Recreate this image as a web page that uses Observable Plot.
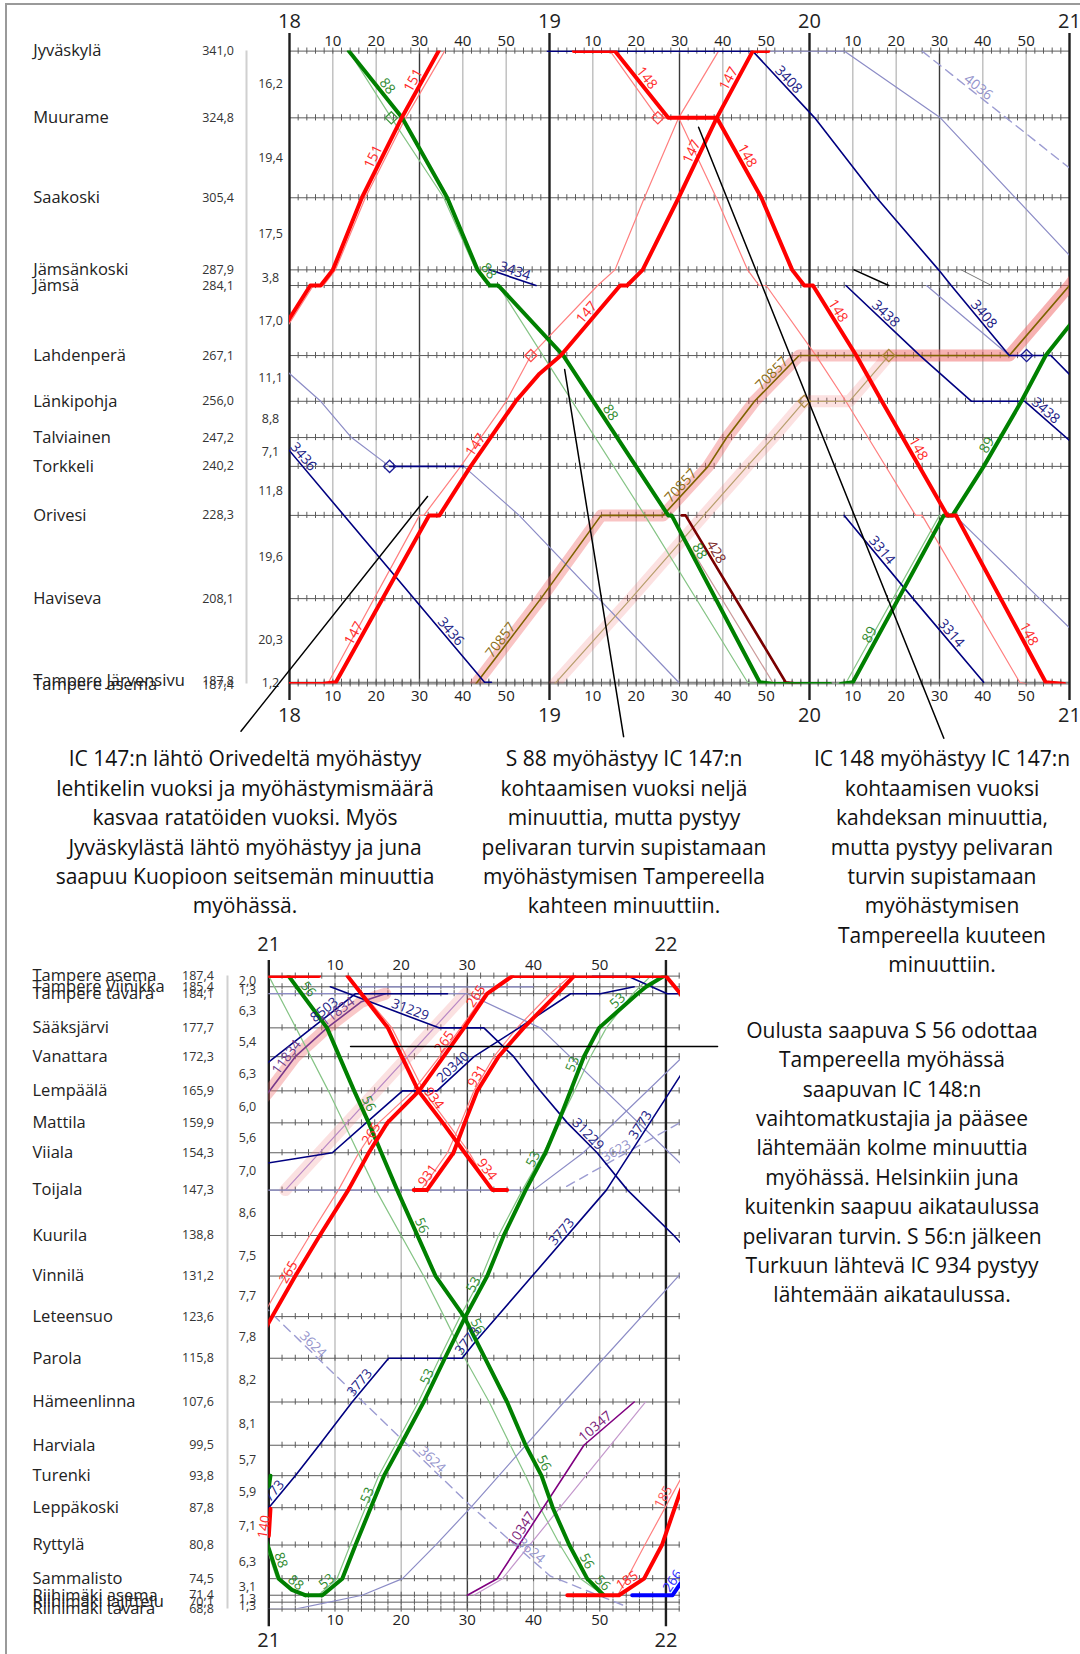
<!DOCTYPE html>
<html><head><meta charset="utf-8">
<script src="https://cdn.jsdelivr.net/npm/d3@7"></script>
<script src="https://cdn.jsdelivr.net/npm/@observablehq/plot@0.6"></script>
<style>
body{margin:0;background:#fff;font-family:"Open Sans",sans-serif;}
#page{position:relative;width:1080px;height:1654px;overflow:hidden;background:#fff;}
#frame{position:absolute;left:5px;top:3px;width:1200px;height:1800px;border-left:2px solid #9a9a9a;border-top:2px solid #9a9a9a;}
.chart{position:absolute;left:0;}
.note{position:absolute;font-size:21px;line-height:29.4px;text-align:center;color:#111;white-space:nowrap;transform:translateX(-50%);}
</style></head>
<body><div id="page"><div id="frame"></div><div id="top" class="chart" style="top:0"></div><div id="bot" class="chart" style="top:930px"></div></div>
<script>
// ---------------- DATA ----------------
const topStations = ["Jyväskylä","Muurame","Saakoski","Jämsänkoski","Jämsä","Lahdenperä","Länkipohja","Talviainen","Torkkeli","Orivesi","Haviseva","Tampere Järvensivu","Tampere asema"];
const topKm = [341.0,324.8,305.4,287.9,284.1,267.1,256.0,247.2,240.2,228.3,208.1,187.8,187.4];
const topSegments = ["16,2","19,4","17,5","3,8","17,0","11,1","8,8","7,1","11,8","19,6","20,3","1,2"];

const botStations = ["Tampere asema","Tampere Viinikka","Tampere tavara","Sääksjärvi","Vanattara","Lempäälä","Mattila","Viiala","Toijala","Kuurila","Vinnilä","Leteensuo","Parola","Hämeenlinna","Harviala","Turenki","Leppäkoski","Ryttylä","Sammalisto","Riihimäki asema","Riihimäki lajittelu","Riihimäki tavara"];
const botKm = [187.4,185.4,184.1,177.7,172.3,165.9,159.9,154.3,147.3,138.8,131.2,123.6,115.8,107.6,99.5,93.8,87.8,80.8,74.5,71.4,70.1,68.8];
const botSegments = ["2,0","1,3","6,3","5,4","6,3","6,0","5,6","7,0","8,6","7,5","7,7","7,8","8,2","8,1","5,7","5,9","7,1","6,3","3,1","1,3","1,3"];

// train paths: [time, station name or km]
const topTrains = [
 {id:"151p",kind:"redThin",pts:[["17:58",271.7],["18:05.5","Jämsä"],["18:07.8","Jämsä"],["18:10.6","Jämsänkoski"],["18:17.5","Saakoski"],["18:26.8","Muurame"],["18:35.8","Jyväskylä"]]},
 {id:"88p",kind:"greenThin",pts:[["18:13.7","Jyväskylä"],["18:23.5","Muurame"],["18:35.6","Saakoski"],["18:43","Jämsänkoski"],["18:45.8","Jämsä"],["18:48.2","Jämsä"],["18:58.5","Lahdenperä"],["19:22","Orivesi"],["19:45.7","Tampere Järvensivu"],["19:47.5","Tampere asema"]]},
 {id:"147p",kind:"redThin",pts:[["18:07.6","Tampere asema"],["18:09","Tampere Järvensivu"],["18:30","Orivesi"],["18:31","Orivesi"],["18:39.5","Torkkeli"],["18:50","Länkipohja"],["18:55.7","Lahdenperä"],["19:11.1","Jämsä"],["19:15.1","Jämsänkoski"],["19:21.9","Saakoski"],["19:29.8","Muurame"],["19:39","Jyväskylä"]]},
 {id:"148p",kind:"redThin",pts:[["19:14","Jyväskylä"],["19:25","Muurame"],["19:29.8","Muurame"],["19:38.5","Saakoski"],["19:45.7","Jämsänkoski"],["19:48.4","Jämsä"],["19:50","Jämsä"],["20:01.5","Lahdenperä"],["20:08.4","Länkipohja"],["20:24.5","Orivesi"],["20:26","Orivesi"],["20:48.5","Tampere Järvensivu"],["20:50","Tampere asema"]]},
 {id:"428p",kind:"maroonLight",pts:[["19:28","Orivesi"],["19:51.5","Tampere Järvensivu"],["19:53","Tampere asema"]]},
 {id:"89p",kind:"greenThin",pts:[["20:05.5","Tampere asema"],["20:08.5","Tampere Järvensivu"],["20:30","Orivesi"]]},
 {id:"3436p",kind:"navyLight",pts:[["17:58",264.6],["18:07.2","Länkipohja"],["18:14.3","Talviainen"],["18:23.1","Torkkeli"]]},
 {id:"3436q",kind:"navyLight",pts:[["18:40.2","Torkkeli"],["18:53","Orivesi"],["19:29.8","Tampere Järvensivu"]]},
 {id:"3436w",kind:"navy",pts:[["18:23.1","Torkkeli"],["18:40.2","Torkkeli"]]},
 {id:"l1",kind:"navyLight",pts:[["19:50.5","Jyväskylä"],["20:08","Jyväskylä"],["20:30.2","Muurame"],["21:00",291.4],["21:03",288]]},
 {id:"4036",kind:"navyDash",pts:[["20:26","Jyväskylä"],["21:00",312.6],["21:03",310.4]]},
 {id:"l2",kind:"navyLight",pts:[["20:27","Jämsä"],["20:46.1","Lahdenperä"],["20:50","Lahdenperä"]]},
 {id:"l3",kind:"navyLight",pts:[["20:33.5","Orivesi"],["21:00",201],["21:03",198]]},
 {id:"g1",kind:"grey",pts:[["20:35","Jämsänkoski"],["20:42","Jämsä"]]},
 {id:"b1",kind:"black",pts:[["20:10.3","Jämsänkoski"],["20:18.3","Jämsä"]]},
 {id:"70857p",kind:"oliveLight",pts:[["19:01.2","Tampere asema"],["19:18.8","Haviseva"],["19:35.6","Orivesi"],["19:45.6","Torkkeli"],["19:51.6","Talviainen"],["19:58.8","Länkipohja"],["20:09.2","Länkipohja"],["20:18.3","Lahdenperä"],["20:46.1","Lahdenperä"],["21:00","Jämsä"],["21:02",287]]},
 {id:"70857",kind:"olive",pts:[["18:43","Tampere asema"],["18:58","Haviseva"],["19:11.9","Orivesi"],["19:26.2","Orivesi"],["19:36.6","Torkkeli"],["19:40.9","Talviainen"],["19:47.3","Länkipohja"],["19:57.6","Lahdenperä"],["20:46.1","Lahdenperä"],["21:00","Jämsä"],["21:02",287]]},
 {id:"3434",kind:"navy",pts:[["18:46.2","Jämsänkoski"],["18:56.9","Jämsä"]]},
 {id:"3436",kind:"navy",pts:[["17:58",246.5],["18:45","Tampere Järvensivu"],["18:46.6","Tampere Järvensivu"]]},
 {id:"3408",kind:"navy",pts:[["18:59.5","Jyväskylä"],["19:46.9","Jyväskylä"],["20:01.2","Muurame"],["20:15.5","Saakoski"],["20:29.8","Jämsänkoski"],["20:32.7","Jämsä"],["20:46.1","Lahdenperä"],["20:55.7","Lahdenperä"],["21:00",262.5],["21:02",260]]},
 {id:"3438",kind:"navy",pts:[["20:08.4","Jämsä"],["20:25.5","Lahdenperä"],["20:37.4","Länkipohja"],["20:49.7","Länkipohja"],["21:00",246.5],["21:02",244.5]]},
 {id:"3314",kind:"navy",pts:[["20:08","Orivesi"],["20:23.9","Haviseva"],["20:40.2","Tampere Järvensivu"]]},
 {id:"428",kind:"maroon",pts:[["19:30.5","Orivesi"],["19:31.4","Orivesi"],["19:54.5","Tampere Järvensivu"],["19:57.6","Tampere asema"]]},
 {id:"88",kind:"greenThick",pts:[["18:13.7","Jyväskylä"],["18:26","Muurame"],["18:36.4","Saakoski"],["18:43.4","Jämsänkoski"],["18:46.2","Jämsä"],["18:48.2","Jämsä"],["19:03.2","Lahdenperä"],["19:27.4","Orivesi"],["19:28.2","Orivesi"],["19:48.5","Tampere Järvensivu"],["19:51.7","Tampere asema"],["20:04.8","Tampere asema"]]},
 {id:"89",kind:"greenThick",pts:[["20:07.2","Tampere asema"],["20:10","Tampere Järvensivu"],["20:31","Orivesi"],["20:33","Orivesi"],["20:40.2","Torkkeli"],["20:48.9","Länkipohja"],["20:54.5","Lahdenperä"],["21:00",274.4],["21:02",277]]},
 {id:"151",kind:"redThick",pts:[["17:58",272.8],["18:04.8","Jämsä"],["18:07.2","Jämsä"],["18:10","Jämsänkoski"],["18:16.7","Saakoski"],["18:25.9","Muurame"],["18:34.4","Jyväskylä"]]},
 {id:"147",kind:"redThick",pts:[["17:58","Tampere asema"],["18:07.6","Tampere asema"],["18:10.7","Tampere Järvensivu"],["18:32.2","Orivesi"],["18:34.6","Orivesi"],["18:41.8","Torkkeli"],["18:52.2","Länkipohja"],["18:57.7",262.7],["19:02.6","Lahdenperä"],["19:16.3","Jämsä"],["19:17.9","Jämsä"],["19:21.5","Jämsänkoski"],["19:29.8","Saakoski"],["19:38.6","Muurame"],["19:46.9","Jyväskylä"],["19:50.5","Jyväskylä"]]},
 {id:"148",kind:"redThick",pts:[["19:05.6","Jyväskylä"],["19:15.1","Jyväskylä"],["19:27.4","Muurame"],["19:38.6","Muurame"],["19:48.9","Saakoski"],["19:56","Jämsänkoski"],["19:58.8","Jämsä"],["20:00.8","Jämsä"],["20:10.8","Lahdenperä"],["20:16.7","Länkipohja"],["20:31.8","Orivesi"],["20:33.8","Orivesi"],["20:54.5","Tampere Järvensivu"],["20:58.8","Tampere asema"]]}
];
const topDiamonds = [["greenThin","18:23.5","Muurame"],["redThin","19:25","Muurame"],["redThin","18:55.7","Lahdenperä"],["navy","18:23.1","Torkkeli"],["oliveLight","19:58.8","Länkipohja"],["oliveLight","20:18.3","Lahdenperä"],["navy","20:50.1","Lahdenperä"]];
const topLabels = [["88","18:21.1"],["151","18:30.2"],["151","18:21"],["88","18:44.5"],["3434","18:51.5"],["148","19:21"],["147","19:43"],["147","19:34.5"],["148","19:44"],["147","19:10"],["3408","19:54"],["4036","20:38"],["3438","20:16.5"],["3408","20:39"],["148","20:05"],["3436","18:02"],["147","18:44.5"],["147","18:16.5"],["3436","18:36"],["70857","18:50"],["88","19:12.5"],["70857","19:52.5"],["70857","19:31.5"],["88","19:33"],["428","19:37"],["89","20:42.5"],["3438","20:53.5"],["3314","20:15.5"],["3314","20:31.5"],["148","20:23.5"],["148","20:49"],["89","20:15.5"]];
const topAnnoLines = [
 [["17:48.8",175.9],["18:31.85",232.9]],
 [["19:17.1",174.6],["19:03.5",263.7]],
 [["20:31",174.2],["19:34.4",322.5]]
];

const botTrains = [
 {id:"934p",kind:"redThin",pts:[["21:12","Tampere asema"],["21:18.6","Sääksjärvi"],["21:23.4","Lempäälä"],["21:27","Mattila"],["21:30.3","Viiala"],["21:33.5","Toijala"]]},
 {id:"931p",kind:"redThin",pts:[["21:23","Toijala"],["21:27","Viiala"],["21:29","Mattila"],["21:31","Lempäälä"],["21:34","Vanattara"],["21:37.5","Sääksjärvi"],["21:42.5","Tampere tavara"],["21:45.5","Tampere asema"]]},
 {id:"265p",kind:"redThin",pts:[["20:59","Leteensuo"],["21:02.5","Vinnilä"],["21:06.2","Kuurila"],["21:10.5","Toijala"],["21:13.6","Viiala"],["21:16.6","Mattila"],["21:21.8","Lempäälä"],["21:25.8","Vanattara"],["21:29","Sääksjärvi"],["21:32.7","Tampere tavara"],["21:36.4","Tampere asema"]]},
 {id:"56p",kind:"greenThin",pts:[["21:00","Tampere asema"],["21:04.1","Sääksjärvi"],["21:09","Lempäälä"],["21:16.2","Toijala"],["21:23.4","Vinnilä"],["21:26.5","Leteensuo"],["21:29.6","Parola"],["21:33.3","Hämeenlinna"],["21:36.5","Harviala"],["21:38.8","Turenki"],["21:41","Leppäkoski"],["21:44","Ryttylä"],["21:47.1","Sammalisto"],["21:50.6","Riihimäki asema"]]},
 {id:"53p",kind:"greenThin",pts:[["21:05","Riihimäki asema"],["21:07.5","Riihimäki asema"],["21:10.3","Sammalisto"],["21:12.3","Ryttylä"],["21:14.6","Leppäkoski"],["21:16.6","Turenki"],["21:19.1","Harviala"],["21:22.6","Hämeenlinna"],["21:25.8","Parola"],["21:28.9","Leteensuo"],["21:32.2","Vinnilä"],["21:34.7","Kuurila"],["21:38.3","Toijala"],["21:41.5","Viiala"],["21:43.8","Mattila"],["21:46.2","Lempäälä"],["21:48.6","Vanattara"],["21:51","Sääksjärvi"],["21:55","Tampere tavara"],["21:57.7","Tampere asema"]]},
 {id:"88p",kind:"greenThin",pts:[["20:59.5",81],["21:01.2","Sammalisto"],["21:04.8","Riihimäki asema"]]},
 {id:"185p",kind:"redThin",pts:[["21:52.7","Riihimäki asema"],["21:54.1","Sammalisto"],["21:56.8","Ryttylä"],["22:02.2",93.1],["22:04",97]]},
 {id:"10347p",kind:"purpleLight",pts:[["21:31","Riihimäki asema"],["21:35.3","Sammalisto"],["21:56.9","Hämeenlinna"]]},
 {id:"11834p",kind:"purpleHaloLight",pts:[["21:02.5","Toijala"],["21:29.7","Tampere tavara"]]},
 {id:"11834",kind:"purpleHalo",pts:[["20:58.5",163.5],["21:00.3",166.2],["21:04","Vanattara"],["21:08.8","Sääksjärvi"],["21:14",182.6],["21:17.6","Tampere tavara"]]},
 {id:"L1",kind:"navyLight",pts:[["20:58","Tampere tavara"],["21:30","Tampere tavara"],["21:41","Sääksjärvi"],["22:02.2",152.3],["22:04",150.5]]},
 {id:"L2",kind:"navyLight",pts:[["21:13","Tampere Viinikka"],["21:40","Tampere Viinikka"]]},
 {id:"L3",kind:"navyLight",pts:[["20:58","Riihimäki tavara"],["21:04","Riihimäki tavara"],["21:14.1","Riihimäki asema"],["21:20.2","Sammalisto"],["21:25.2","Ryttylä"],["21:30.5","Leppäkoski"],["21:44.6","Hämeenlinna"],["22:02.2",131.6],["22:04",134]]},
 {id:"L4",kind:"navyLight",pts:[["20:58","Toijala"],["21:40","Toijala"],["21:47.5","Viiala"],["22:02.2",171.9],["22:04",174]]},
 {id:"3624",kind:"navyDash",pts:[["20:59",125.9],["21:30.2",88.5],["21:42.5",75],["21:54.2",69.2]]},
 {id:"L5",kind:"navyDash",pts:[["21:45",148],["22:02.2",160],["22:04",161.5]]},
 {id:"8503",kind:"navy",pts:[["20:59",170.4],["21:00.3",171.6],["21:13.1","Tampere tavara"],["21:27","Tampere tavara"]]},
 {id:"31229",kind:"navy",pts:[["21:09.3","Tampere Viinikka"],["21:25.7","Sääksjärvi"],["21:32.5","Sääksjärvi"],["21:37","Vanattara"],["21:41","Lempäälä"],["21:45.1","Mattila"],["21:49.6","Viiala"],["21:54.2","Toijala"],["22:01.2","Kuurila"],["22:04",135]]},
 {id:"20340",kind:"navy",pts:[["20:58",152],["21:09.6","Viiala"],["21:14.7","Mattila"],["21:20.2","Lempäälä"],["21:25.4","Lempäälä"],["21:31","Vanattara"],["21:37.8","Sääksjärvi"],["21:45.6","Tampere tavara"],["21:50.1","Tampere tavara"],["21:55.2","Tampere Viinikka"]]},
 {id:"n5",kind:"navy",pts:[["21:48.9","Tampere asema"],["21:54.2","Tampere asema"],["22:00.2","Tampere tavara"],["22:04","Tampere tavara"]]},
 {id:"3773",kind:"navy",pts:[["20:59",89.5],["21:00","Leppäkoski"],["21:04","Turenki"],["21:07.6","Harviala"],["21:12.6","Hämeenlinna"],["21:18.1","Parola"],["21:29.2","Parola"],["21:31.2",118.9],["21:39.8","Vinnilä"],["21:51","Toijala"],["22:02.2",168.8],["22:04",171]]},
 {id:"10347",kind:"purple",pts:[["21:30","Riihimäki asema"],["21:34.5","Sammalisto"],["21:47.6","Harviala"],["21:55.2","Hämeenlinna"]]},
 {id:"56",kind:"greenThick",pts:[["21:03","Tampere asema"],["21:08.8","Sääksjärvi"],["21:12.9","Lempäälä"],["21:15.1","Mattila"],["21:17","Viiala"],["21:19.4","Toijala"],["21:25.2","Vinnilä"],["21:29.5","Leteensuo"],["21:36","Hämeenlinna"],["21:38.8","Harviala"],["21:41.2","Turenki"],["21:42.9","Leppäkoski"],["21:45.4","Ryttylä"],["21:48.1","Sammalisto"],["21:50.6","Riihimäki asema"]]},
 {id:"88",kind:"greenThick",pts:[["20:59.5",82],["21:00.3",79],["21:01.5","Sammalisto"],["21:03.5",72.4],["21:05.5","Riihimäki asema"]]},
 {id:"53",kind:"greenThick",pts:[["21:05.5","Riihimäki asema"],["21:08.1","Riihimäki asema"],["21:11.1","Sammalisto"],["21:13.1","Ryttylä"],["21:15.4","Leppäkoski"],["21:17.4","Turenki"],["21:19.9","Harviala"],["21:23.4","Hämeenlinna"],["21:26.6","Parola"],["21:29.7","Leteensuo"],["21:33","Vinnilä"],["21:35.5","Kuurila"],["21:38.8","Toijala"],["21:41.8","Viiala"],["21:43.7","Mattila"],["21:45.6","Lempäälä"],["21:47.6","Vanattara"],["21:49.9","Sääksjärvi"],["21:55.7","Tampere tavara"],["21:57","Tampere Viinikka"],["21:59.7","Tampere asema"]]},
 {id:"g0",kind:"greenThick",pts:[["21:00",91.6],["21:00.25",93.8]]},
 {id:"148",kind:"redThick",pts:[["20:58","Tampere asema"],["21:07.6","Tampere asema"]]},
 {id:"934",kind:"redThick",pts:[["21:11.9","Tampere asema"],["21:18","Sääksjärvi"],["21:20.1","Vanattara"],["21:22.6","Lempäälä"],["21:26.3","Mattila"],["21:29.6","Viiala"],["21:33.8","Toijala"],["21:36","Toijala"]]},
 {id:"931",kind:"redThick",pts:[["21:21.9","Toijala"],["21:23.9","Toijala"],["21:27.9","Viiala"],["21:29.6","Mattila"],["21:31.5","Lempäälä"],["21:34.7","Vanattara"],["21:38.5","Sääksjärvi"],["21:43.6","Tampere tavara"],["21:46.1","Tampere asema"]]},
 {id:"265",kind:"redThick",pts:[["20:59",120.3],["21:00.5","Leteensuo"],["21:04","Vinnilä"],["21:07.7","Kuurila"],["21:12","Toijala"],["21:15.1","Viiala"],["21:17.9","Mattila"],["21:22.7","Lempäälä"],["21:26.4","Vanattara"],["21:29.5","Sääksjärvi"],["21:33","Tampere tavara"],["21:36.8","Tampere asema"]]},
 {id:"r9",kind:"redThick",pts:[["21:36.8","Tampere asema"],["22:00","Tampere asema"],["22:02.2","Tampere tavara"],["22:05","Sääksjärvi"]]},
 {id:"185",kind:"redThick",pts:[["21:45.1","Riihimäki asema"],["21:52.9","Riihimäki asema"],["21:56.7","Sammalisto"],["21:59.4","Ryttylä"],["22:02.2",90.9],["22:03.5",95]]},
 {id:"140",kind:"redThick",pts:[["21:00",82.5],["21:00.25",87.6]]},
 {id:"266",kind:"blueThick",pts:[["21:54.9","Riihimäki asema"],["22:01","Riihimäki asema"],["22:02.2",73.6],["22:04",76.5]]}
];
const botDiamonds = [];
const botLabels = [["56","21:05"],["8503","21:09"],["11834","21:03.5"],["11834","21:11"],["31229","21:21"],["56","21:14"],["265","21:16.5"],["265","21:27.5"],["20340","21:28.5"],["934","21:24"],["931","21:25"],["934","21:32"],["931","21:32.5"],["265","21:32.3"],["56","21:22"],["53","21:32"],["53","21:41"],["53","21:47"],["53","21:53.5"],["31229","21:47.5"],["3773","21:57"],["3773","21:45"],["265","21:04"],["3624","21:06"],["3773","21:14.5"],["53","21:25"],["3773","21:30.8"],["56","21:30.5"],["53","21:16"],["3624","21:24"],["10347","21:50"],["10347","21:39"],["3624","21:39"],["56","21:40.5"],["56","21:47"],["56","21:49.6"],["185","21:54.8"],["185p","22:00.5","185"],["88","21:00.7"],["88","21:03.3"],["53","21:09.5"],["3773","21:01.2"],["L5","21:53","3623"],["266","22:02","266"]];
const botExtraLabels = [{t:"20:59.3",km:84.2,rot:-80,txt:"140",kind:"redThick"}];
const botAnnoLines = [[["21:12.35",174.2],["22:07.8",174.2]]];

const noteTexts = [
 ["IC 147:n lähtö Orivedeltä myöhästyy","lehtikelin vuoksi ja myöhästymismäärä","kasvaa ratatöiden vuoksi. Myös","Jyväskylästä lähtö myöhästyy ja juna","saapuu Kuopioon seitsemän minuuttia","myöhässä."],
 ["S 88 myöhästyy IC 147:n","kohtaamisen vuoksi neljä","minuuttia, mutta pystyy","pelivaran turvin supistamaan","myöhästymisen Tampereella","kahteen minuuttiin."],
 ["IC 148 myöhästyy IC 147:n","kohtaamisen vuoksi","kahdeksan minuuttia,","mutta pystyy pelivaran","turvin supistamaan","myöhästymisen","Tampereella kuuteen","minuuttiin."],
 ["Oulusta saapuva S 56 odottaa","Tampereella myöhässä","saapuvan IC 148:n","vaihtomatkustajia ja pääsee","lähtemään kolme minuuttia","myöhässä. Helsinkiin juna","kuitenkin saapuu aikataulussa","pelivaran turvin. S 56:n jälkeen","Turkuun lähtevä IC 934 pystyy","lähtemään aikataulussa."]
];

// ---------------- STYLES / LAYOUT ----------------
const STY = {
 redThick:{stroke:"#ff0000",width:4,label:"#ff2a2a",mark:"#ff3030"},
 redThin:{stroke:"#ff7f7f",width:1.2,label:"#ff5a5a",mark:"#ff4a4a"},
 greenThick:{stroke:"#008000",width:4,label:"#2f8a2f",mark:"#2f8a2f"},
 greenThin:{stroke:"#86c486",width:1.2,label:"#3c963c",mark:"#3c963c"},
 navy:{stroke:"#000080",width:1.6,label:"#1c1c86",mark:"#1c1c96"},
 navyLight:{stroke:"#8c8cc6",width:1.2,label:"#8080c0",mark:"#6060b0"},
 navyDash:{stroke:"#9c9cd2",width:1.4,dash:"9,6",label:"#9494cc",mark:"#8080c0"},
 olive:{stroke:"#7f6200",width:1.6,halo:"rgba(240,100,100,0.38)",haloWidth:12,label:"#8c6c14",mark:"#a08030"},
 oliveLight:{stroke:"#b79e6c",width:1.2,halo:"rgba(240,120,120,0.22)",haloWidth:12,label:"#a08840",mark:"#b08a40"},
 maroon:{stroke:"#7a0000",width:2.6,label:"#7a2a2a",mark:"#7a0000"},
 maroonLight:{stroke:"#cc9a9a",width:1.2,label:"#c08080",mark:"#c08080"},
 purple:{stroke:"#800080",width:1.6,label:"#7a1a7a",mark:"#800080"},
 purpleLight:{stroke:"#c498cc",width:1.2,label:"#b080b8",mark:"#b080b8"},
 purpleHalo:{stroke:"#7a3a8a",width:1.6,halo:"rgba(240,110,110,0.38)",haloWidth:12,label:"#6a3a8a",mark:"#7a3a8a"},
 purpleHaloLight:{stroke:"#b888c4",width:1.2,halo:"rgba(240,130,130,0.24)",haloWidth:12,label:"#b090c0",mark:"#b090c0"},
 blueThick:{stroke:"#0000ff",width:4,label:"#2a2aff",mark:"#0000ff"},
 black:{stroke:"#000000",width:1.6,label:"#000",mark:"#000"},
 grey:{stroke:"#7a7a7a",width:1,label:"#777",mark:"#777"}
};
const notePos = [[245,744.3],[624,744.3],[942,744.3],[892,1015.8]];
const minLabelGap = 4.2; // px between station labels that nearly coincide

const parseT = s => { const i = s.indexOf(":"); return (+s.slice(0, i)) * 60 + (+s.slice(i + 1)); };

function locate(d, T) {
  for (let i = 0; i < d.length - 1; i++) if (d[i+1].t > d[i].t && T >= d[i].t && T <= d[i+1].t) return i;
  return T < d[0].t ? 0 : d.length - 2;
}

function buildChart(c) {
  const stMap = new Map(c.stations.map((s, i) => [s, c.kms[i]]));
  const K = v => (typeof v === "string" ? stMap.get(v) : v);
  const kmTop = d3.max(c.kms), kmBot = d3.min(c.kms);
  const t0 = parseT(c.from), t1 = parseT(c.to);
  const kx = (c.width - c.ml - c.mr) / (t1 - t0);
  const ky = (c.height - c.mt - c.mb) / (kmTop - kmBot);
  const trains = c.trains.map(tr => ({...tr, data: tr.pts.map(([t, s]) => ({t: parseT(t), km: K(s)}))}));
  const byId = new Map(trains.map(tr => [tr.id, tr]));
  const marks = [];

  // station labels (nearly coincident ones spread apart a little, as in the original)
  const stRows = c.stations.map((s, i) => ({name: s, km: c.kms[i], lk: c.kms[i], lab: c.kms[i].toFixed(1).replace(".", ",")}));
  for (let i = 1; i < stRows.length; i++) {
    const gap = (stRows[i - 1].lk - stRows[i].lk) * ky;
    if (gap < minLabelGap) { const adj = (minLabelGap - gap) / 2 / ky; stRows[i - 1].lk += adj; stRows[i].lk -= adj; }
  }
  marks.push(Plot.ruleX([t0], {dx: c.sepDx, y1: kmBot, y2: kmTop, stroke: "#d0d0d0", strokeWidth: 2}));
  marks.push(Plot.text(stRows, {y: "lk", text: "name", frameAnchor: "left", lineAnchor: "middle", dx: c.nameDx, textAnchor: "start", fontSize: 16.5, fill: "#222"}));
  marks.push(Plot.text(stRows, {y: "lk", text: "lab", frameAnchor: "left", lineAnchor: "middle", dx: c.kmDx, textAnchor: "end", fontSize: 12.5, fill: "#333"}));
  const segRows = c.segments.map((s, i) => ({km: (c.kms[i] + c.kms[i + 1]) / 2, lab: s}));
  marks.push(Plot.text(segRows, {y: "km", text: "lab", frameAnchor: "left", lineAnchor: "middle", textAnchor: "middle", dx: c.segDx, fontSize: 12.5, fill: "#333"}));

  const grid = d3.range(Math.ceil(t0 / 10) * 10, t1 + 1e-6, 10);
  const minor = grid.filter(t => t % 30 !== 0);
  const half = grid.filter(t => t % 60 === 30);
  const hours = grid.filter(t => t % 60 === 0);
  marks.push(Plot.ruleX(minor, {y1: kmBot, y2: kmTop, stroke: "#b2b2b2", strokeWidth: 1.2}));
  marks.push(Plot.ruleX(half, {y1: kmBot, y2: kmTop, stroke: "#3a3a3a", strokeWidth: 1.4}));
  marks.push(Plot.ruleY(c.kms, {x1: t0, x2: t1, stroke: "#5c5c5c", strokeWidth: 1}));
  const ticks = [];
  for (const k of c.kms) for (let t = t0; t <= t1 + 1e-6; t += 2) ticks.push({t, y1: k - c.tickKm, y2: k + c.tickKm});
  marks.push(Plot.ruleX(ticks, {x: "t", y1: "y1", y2: "y2", stroke: "#5c5c5c", strokeWidth: 1}));
  marks.push(Plot.ruleX(hours, {y1: kmBot - c.hourExtBot, y2: kmTop + c.hourExtTop, stroke: "#1e1e1e", strokeWidth: 2.4}));

  const minLabs = grid.filter(t => t % 60 !== 0).map(t => ({t, s: String(t % 60)}));
  const hourLabs = hours.map(t => ({t, s: String(t / 60)}));
  marks.push(Plot.text(minLabs, {x: "t", text: "s", frameAnchor: "top", lineAnchor: "middle", dy: c.minTopDy, fontSize: 15, fill: "#222"}));
  marks.push(Plot.text(minLabs, {x: "t", text: "s", frameAnchor: "bottom", lineAnchor: "middle", dy: c.minBotDy, fontSize: 15, fill: "#222"}));
  marks.push(Plot.text(hourLabs, {x: "t", text: "s", frameAnchor: "top", lineAnchor: "middle", dy: c.hourTopDy, fontSize: 20, fill: "#222"}));
  marks.push(Plot.text(hourLabs, {x: "t", text: "s", frameAnchor: "bottom", lineAnchor: "middle", dy: c.hourBotDy, fontSize: 20, fill: "#222"}));

  for (const tr of trains) {
    const s = STY[tr.kind];
    if (s.halo) marks.push(Plot.line(tr.data, {x: "t", y: "km", stroke: s.halo, strokeWidth: s.haloWidth, strokeLinecap: "round", strokeLinejoin: "round", clip: true}));
  }
  for (const tr of trains) {
    const s = STY[tr.kind];
    marks.push(Plot.line(tr.data, {x: "t", y: "km", stroke: s.stroke, strokeWidth: s.width, strokeDasharray: s.dash, strokeLinejoin: "round", clip: true}));
  }
  if (c.diamonds.length)
    marks.push(Plot.dot(c.diamonds.map(([k, t, s]) => ({t: parseT(t), km: K(s), col: STY[k].mark})), {x: "t", y: "km", symbol: "diamond2", r: 5.5, stroke: "col", fill: "none", strokeWidth: 1.3}));

  const labs = c.labels.map(([id, t, txt]) => {
    const tr = byId.get(id), d = tr.data, T = parseT(t);
    const i = locate(d, T), a = d[i], b = d[i + 1];
    const f = b.t > a.t ? (T - a.t) / (b.t - a.t) : 0;
    const km = a.km + f * (b.km - a.km);
    const ang = Math.atan2(-(b.km - a.km) * ky, (b.t - a.t) * kx);
    const off = STY[tr.kind].width / 2 + 1.5;
    return {t: T + off * Math.sin(ang) / kx, km: km + off * Math.cos(ang) / ky, rot: ang * 180 / Math.PI, txt: txt ?? id, col: STY[tr.kind].label};
  });
  marks.push(Plot.text(labs, {x: "t", y: "km", text: "txt", rotate: "rot", fill: "col", fontSize: c.labelSize, lineAnchor: "bottom", clip: true}));
  if (c.extra.length)
    marks.push(Plot.text(c.extra.map(e => ({t: parseT(e.t), km: e.km, rot: e.rot, txt: e.txt, col: STY[e.kind].label})), {x: "t", y: "km", text: "txt", rotate: "rot", fill: "col", fontSize: c.labelSize}));

  for (const ln of c.annos)
    marks.push(Plot.line(ln.map(([t, k]) => ({t: parseT(t), km: k})), {x: "t", y: "km", stroke: "#000", strokeWidth: 1.5}));

  return Plot.plot({
    width: c.width, height: c.height,
    marginLeft: c.ml, marginRight: c.mr, marginTop: c.mt, marginBottom: c.mb,
    x: {domain: [t0, t1], axis: null},
    y: {domain: [kmBot, kmTop], axis: null},
    style: {fontFamily: "'Open Sans', sans-serif", background: "none", overflow: "visible"},
    marks
  });
}

document.getElementById("top").append(buildChart({
  stations: topStations, kms: topKm, segments: topSegments, trains: topTrains, labels: topLabels, diamonds: topDiamonds, extra: [], annos: topAnnoLines,
  from: "18:00", to: "21:00", width: 1080, height: 760, ml: 289, mr: 11, mt: 50.6, mb: 76.6,
  nameDx: -256.3, kmDx: -55.5, segDx: -19, sepDx: -43, tickKm: 0.75, hourExtTop: 4.27, hourExtBot: 4.0,
  minTopDy: -9.5, hourTopDy: -29.5, minBotDy: 12, hourBotDy: 32, labelSize: 14
}));
document.getElementById("bot").append(buildChart({
  stations: botStations, kms: botKm, segments: botSegments, trains: botTrains, labels: botLabels, diamonds: botDiamonds, extra: botExtraLabels, annos: botAnnoLines,
  from: "21:00", to: "22:02.2", width: 1080, height: 724, ml: 268.3, mr: 400, mt: 45.6, mb: 45.4,
  nameDx: -236.3, kmDx: -54.9, segDx: -21.3, sepDx: -41.3, tickKm: 0.57, hourExtTop: 2.9, hourExtBot: 3.3,
  minTopDy: -10.6, hourTopDy: -31.6, minBotDy: 11.4, hourBotDy: 31.4, labelSize: 13.5
}));

const page = document.getElementById("page");
noteTexts.forEach((lines, i) => {
  const div = document.createElement("div");
  div.className = "note";
  div.style.left = notePos[i][0] + "px";
  div.style.top = notePos[i][1] + "px";
  div.innerHTML = lines.map(l => l.replace(/&/g, "&amp;").replace(/</g, "&lt;")).join("<br>");
  page.append(div);
});
</script></body></html>
